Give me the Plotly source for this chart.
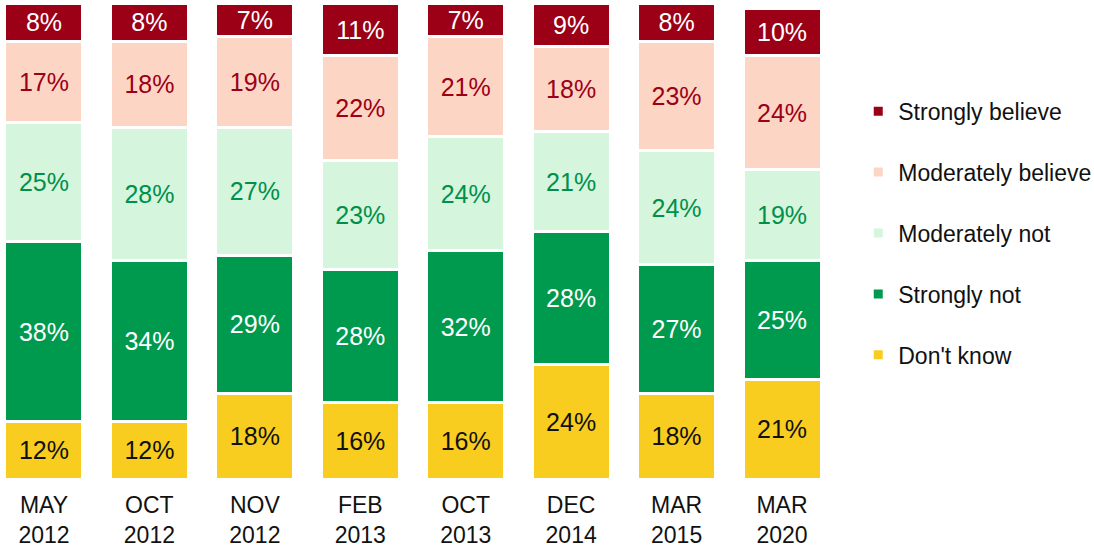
import plotly.graph_objects as go

categories = ["MAY<br>2012", "OCT<br>2012", "NOV<br>2012", "FEB<br>2013",
              "OCT<br>2013", "DEC<br>2014", "MAR<br>2015", "MAR<br>2020"]
dont_know = [12, 12, 18, 16, 16, 24, 18, 21]
strongly_not = [38, 34, 29, 28, 32, 28, 27, 25]
moderately_not = [25, 28, 27, 23, 24, 21, 24, 19]
moderately_believe = [17, 18, 19, 22, 21, 18, 23, 24]
strongly_believe = [8, 8, 7, 11, 7, 9, 8, 10]

series = [
    ("Don't know", dont_know, "#F8CD1F", "#111111"),
    ("Strongly not", strongly_not, "#009A4E", "#FFFFFF"),
    ("Moderately not", moderately_not, "#D5F5DC", "#00904A"),
    ("Moderately believe", moderately_believe, "#FDD5C5", "#9B0016"),
    ("Strongly believe", strongly_believe, "#9B0016", "#FFFFFF"),
]

FONT = "Liberation Sans, Arial, sans-serif"

fig = go.Figure()
n = len(series)
for i, (name, vals, color, tcolor) in enumerate(series):
    fig.add_trace(go.Bar(
        name=name,
        x=list(range(len(categories))),
        y=vals,
        width=0.74,
        marker=dict(color=color, line=dict(color="white", width=3)),
        text=[f"{v}%" for v in vals],
        textposition="inside",
        insidetextanchor="middle",
        textangle=0,
        constraintext="none",
        textfont=dict(family=FONT, size=25, color=tcolor),
        legendgroup=f"g{i}",
        legendrank=n - i,
        hoverinfo="skip",
    ))

fig.update_layout(
    barmode="stack",
    width=1094, height=549,
    margin=dict(l=0, r=254, t=1, b=70, autoexpand=False),
    paper_bgcolor="white",
    plot_bgcolor="white",
    showlegend=True,
    legend=dict(
        traceorder="grouped",
        tracegroupgap=28,
        xref="container", yref="container",
        x=0.7845, xanchor="left",
        y=0.8365, yanchor="top",
        itemwidth=30,
        font=dict(family=FONT, size=23, color="#111111"),
        bgcolor="rgba(0,0,0,0)",
    ),
    xaxis=dict(
        tickmode="array",
        tickvals=list(range(len(categories))),
        ticktext=categories,
        range=[-0.417, 7.55],
        automargin=False,
        ticklabelstandoff=10,
        showgrid=False, showline=False, zeroline=False, ticks="",
        tickfont=dict(family=FONT, size=23, color="#111111"),
    ),
    yaxis=dict(range=[0, 100.5], visible=False, showgrid=False, automargin=False),
)

fig.write_html("out.html", config={"displayModeBar": False},
               post_script="document.body.style.margin='0';")
